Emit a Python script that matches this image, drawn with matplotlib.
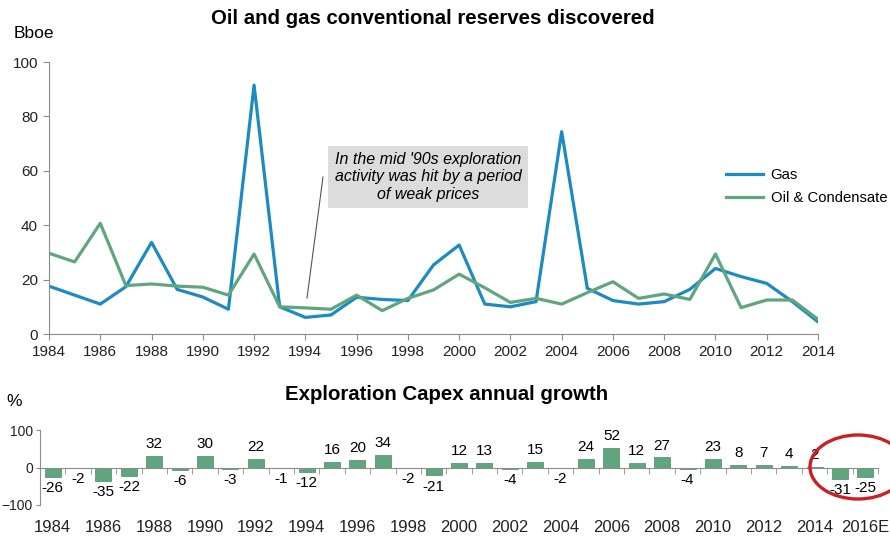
import numpy as np
import matplotlib
matplotlib.use('Agg')
import matplotlib.pyplot as plt
from matplotlib.patches import Ellipse

plt.rcParams['font.family'] = ['Liberation Sans', 'DejaVu Sans']

# reserves discovered (Bboe)
years = list(range(1984, 2015))
gas = [17.6, 14.3, 11.0, 17.4, 33.7, 16.4, 13.6, 9.1, 91.5, 10.0,
       6.1, 7.0, 13.5, 12.7, 12.3, 25.4, 32.7, 11.0, 10.0, 11.9,
       74.4, 16.8, 12.3, 11.0, 11.9, 16.4, 24.1, 21.1, 18.6, 11.9, 4.5]
oil = [29.7, 26.5, 40.7, 17.8, 18.4, 17.6, 17.2, 14.3, 29.4, 10.0,
       9.6, 9.1, 14.3, 8.6, 13.1, 16.2, 22.0, 17.0, 11.6, 13.1,
       11.0, 15.2, 19.2, 13.1, 14.7, 12.7, 29.4, 9.7, 12.5, 12.5, 5.4]

# exploration capex growth (%)
capex_years = [str(y) for y in range(1984, 2016)] + ['2016E']
capex = [-26, -2, -35, -22, 32, -6, 30, -3, 22, -1, -12, 16, 20, 34, -2, -21,
         12, 13, -4, 15, -2, 24, 52, 12, 27, -4, 23, 8, 7, 4, 2, -31, -25]

gas_color = '#1b8bc1'
oil_color = '#5fa67f'
axis_color = '#8c8c8c'

W, H = 890, 542
fig = plt.figure(figsize=(8.9, 5.42), dpi=100)

def box(l, t, r, b):
    return [l / W, 1 - b / H, (r - l) / W, (b - t) / H]

# ---- top chart
ax = fig.add_axes(box(49, 62, 818, 334))
ax.plot(years, gas, color=gas_color, linewidth=2.3, label='Gas')
ax.plot(years, oil, color=oil_color, linewidth=2.3, label='Oil & Condensate')
ax.set_xlim(1984, 2014)
ax.set_ylim(0, 100)
ax.set_xticks(range(1984, 2015, 2))
ax.set_yticks(range(0, 101, 20))
for s in ['top', 'right']:
    ax.spines[s].set_visible(False)
for s in ['left', 'bottom']:
    ax.spines[s].set_color(axis_color)
ax.tick_params(colors=axis_color, labelcolor='#222222', labelsize=11, length=4, pad=4)
ax.legend(loc='upper left', bbox_to_anchor=(726 / W, 1 - 168 / H), bbox_transform=fig.transFigure,
          frameon=False, fontsize=10.7, handlelength=2.5, handletextpad=0.5, labelspacing=0.6,
          borderpad=0, borderaxespad=0)

fig.text(433 / W, 1 - 18 / H, 'Oil and gas conventional reserves discovered',
         ha='center', va='center', fontsize=14.7, fontweight='bold')
fig.text(14 / W, 1 - 33 / H, 'Bboe', ha='left', va='center', fontsize=12.5)

# annotation box
fig.text(428 / W, 1 - 177 / H,
         "In the mid '90s exploration\nactivity was hit by a period\nof weak prices",
         ha='center', va='center', fontsize=11.5, style='italic', linespacing=1.2,
         bbox=dict(boxstyle='square,pad=0.4', facecolor='#dcdcdc', edgecolor='none'))
fig.add_artist(plt.Line2D([323 / W, 307 / W], [1 - 177 / H, 1 - 298 / H],
                          color='#555555', linewidth=0.8))

# ---- bottom chart
ax2 = fig.add_axes(box(40, 430, 878, 505))
x = np.arange(len(capex))
ax2.bar(x, capex, width=0.63, color=oil_color, edgecolor='#4e8a69', linewidth=0.5)
for xi, v in zip(x, capex):
    if v >= 0:
        ax2.annotate(str(v), (xi, v), xytext=(0, 3.5), textcoords='offset points',
                     ha='center', va='bottom', fontsize=11)
    else:
        ax2.annotate(str(v), (xi, v), xytext=(0, -3), textcoords='offset points',
                     ha='center', va='top', fontsize=11)
ax2.set_xlim(-0.5, len(capex) - 0.5)
ax2.set_ylim(-100, 100)
ax2.set_yticks([-100, 0, 100])
ax2.set_xticks(x[::2])
ax2.set_xticklabels(capex_years[::2])
ax2.set_xticks(np.arange(len(capex) + 1) - 0.5, minor=True)
for s in ['top', 'right']:
    ax2.spines[s].set_visible(False)
ax2.spines['bottom'].set_position(('data', 0))
for s in ['left', 'bottom']:
    ax2.spines[s].set_color(axis_color)
ax2.tick_params(axis='y', colors=axis_color, labelcolor='#222222', labelsize=10, length=3, pad=2)
ax2.tick_params(axis='x', which='major', length=0, pad=38, labelsize=12, labelcolor='#222222')
ax2.tick_params(axis='x', which='minor', length=4, color=axis_color)

fig.text(447 / W, 1 - 395 / H, 'Exploration Capex annual growth',
         ha='center', va='center', fontsize=14.7, fontweight='bold')
fig.text(6 / W, 1 - 402 / H, '%', ha='left', va='center', fontsize=12.5)

# red circle around the forecast bars
fig.add_artist(Ellipse((858 / W, 1 - 467 / H), 96 / W, 64 / H, angle=0,
                       transform=fig.transFigure, fill=False,
                       edgecolor='#cc1f25', linewidth=2.4))

fig.savefig('out.png', dpi=100)
